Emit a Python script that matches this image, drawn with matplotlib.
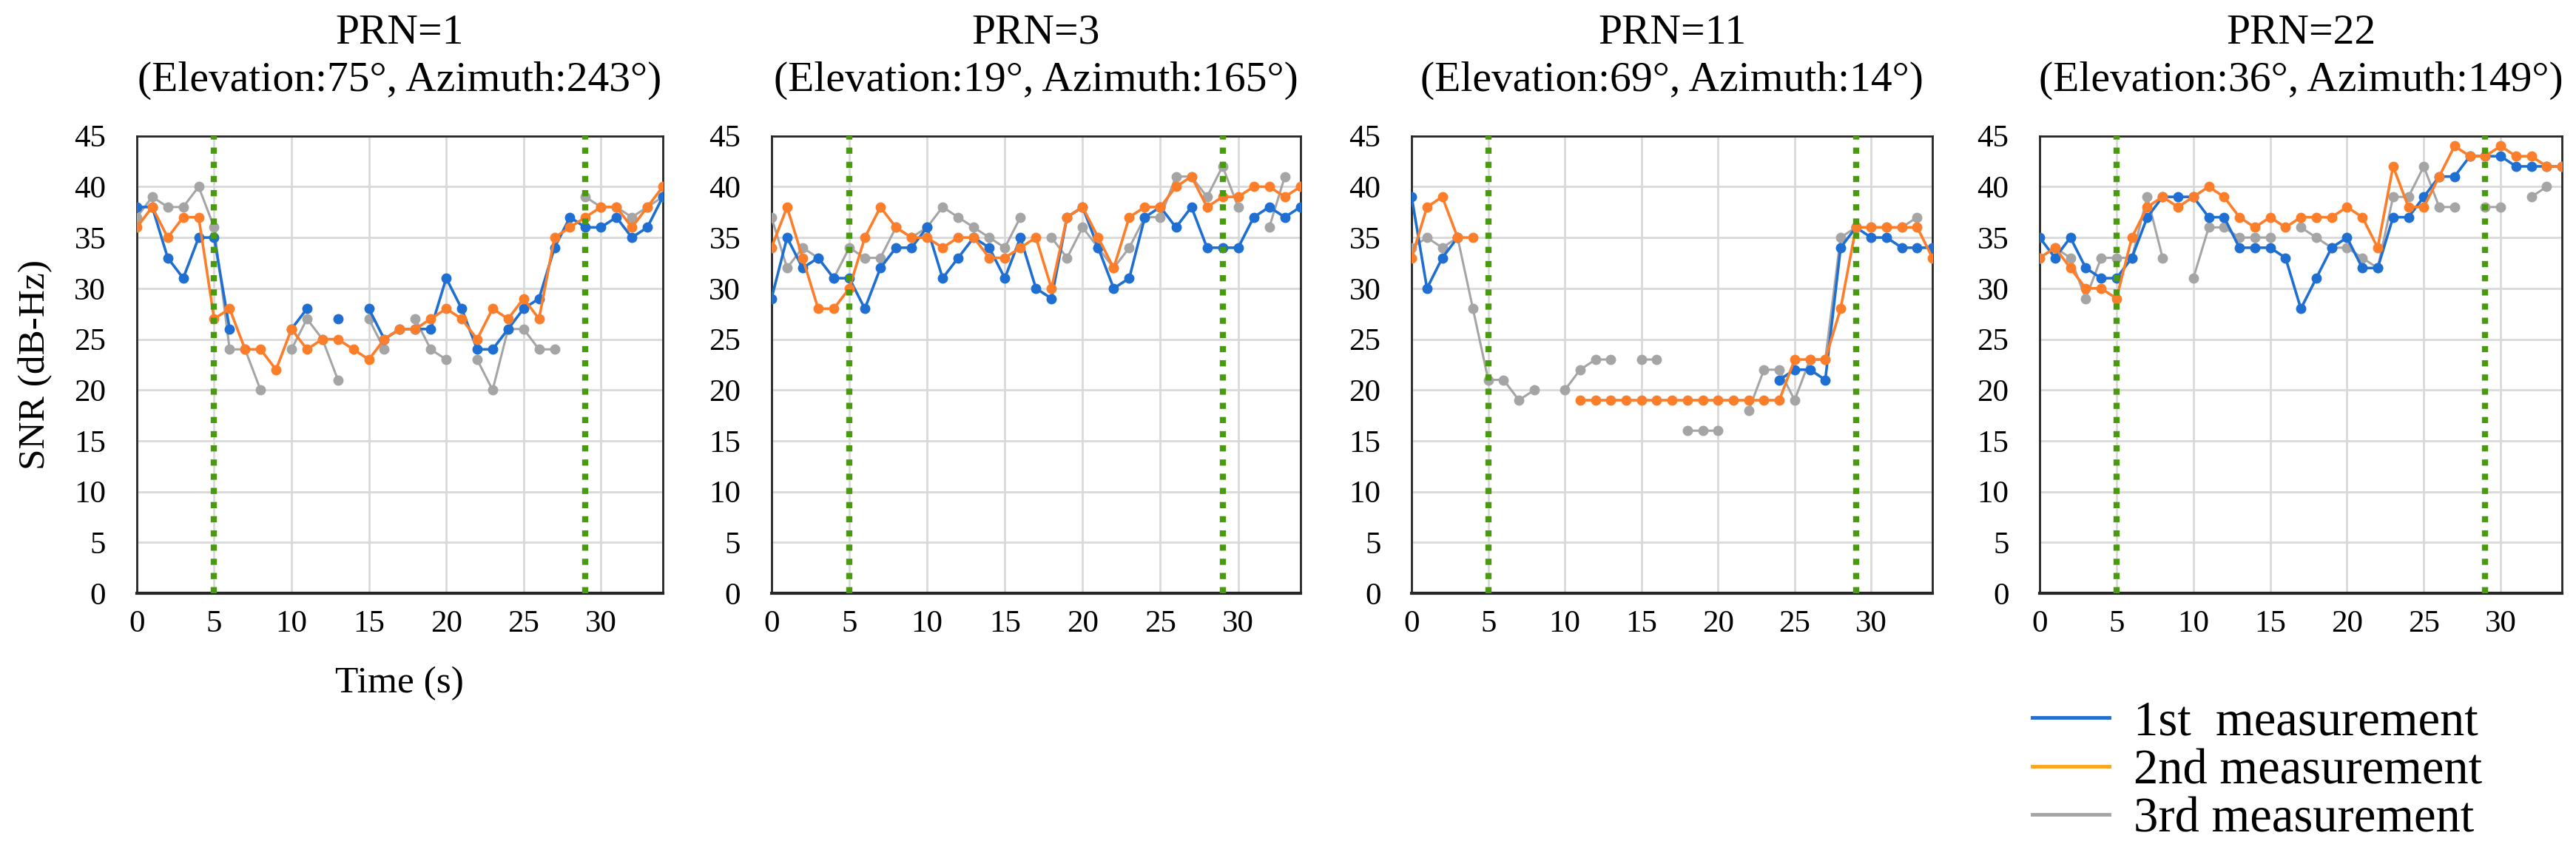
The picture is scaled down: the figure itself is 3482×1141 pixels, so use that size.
import numpy as np
import matplotlib
matplotlib.use("Agg")
import matplotlib.pyplot as plt
from matplotlib.lines import Line2D

nan = np.nan
t = np.arange(35)

# satellite info for the panel titles
prn = [1, 3, 11, 22]
elevation = [75, 19, 69, 36]
azimuth = [243, 165, 14, 149]

# SNR (dB-Hz), one value per second, nan = no record
snr1_m1 = [38, 38, 33, 31, 35, 35, 26, nan, nan, nan, 26, 28, nan, 27, nan, 28, 25, 26, 26, 26,
           31, 28, 24, 24, 26, 28, 29, 34, 37, 36, 36, 37, 35, 36, 39]
snr1_m2 = [36, 38, 35, 37, 37, 27, 28, 24, 24, 22, 26, 24, 25, 25, 24, 23, 25, 26, 26, 27,
           28, 27, 25, 28, 27, 29, 27, 35, 36, 37, 38, 38, 36, 38, 40]
snr1_m3 = [37, 39, 38, 38, 40, 36, 24, 24, 20, nan, 24, 27, 25, 21, nan, 27, 24, nan, 27, 24,
           23, nan, 23, 20, 26, 26, 24, 24, nan, 39, 38, 38, 37, 38, 39]

snr3_m1 = [29, 35, 32, 33, 31, 31, 28, 32, 34, 34, 36, 31, 33, 35, 34, 31, 35, 30, 29, 37,
           38, 34, 30, 31, 37, 38, 36, 38, 34, 34, 34, 37, 38, 37, 38]
snr3_m2 = [34, 38, 33, 28, 28, 30, 35, 38, 36, 35, 35, 34, 35, 35, 33, 33, 34, 35, 30, 37,
           38, 35, 32, 37, 38, 38, 40, 41, 38, 39, 39, 40, 40, 39, 40]
snr3_m3 = [37, 32, 34, 33, 31, 34, 33, 33, 36, 35, 36, 38, 37, 36, 35, 34, 37, nan, 35, 33,
           36, 34, 32, 34, 37, 37, 41, 41, 39, 42, 38, nan, 36, 41, nan]

snr11_m1 = [39, 30, 33, 35, nan, nan, nan, nan, nan, nan, nan, nan, nan, nan, nan, nan, nan, nan, nan, nan,
            nan, nan, nan, nan, 21, 22, 22, 21, 34, 36, 35, 35, 34, 34, 34]
snr11_m2 = [33, 38, 39, 35, 35, nan, nan, nan, nan, nan, nan, 19, 19, 19, 19, 19, 19, 19, 19, 19,
            19, 19, 19, 19, 19, 23, 23, 23, 28, 36, 36, 36, 36, 36, 33]
snr11_m3 = [34, 35, 34, 35, 28, 21, 21, 19, 20, nan, 20, 22, 23, 23, nan, 23, 23, nan, 16, 16,
            16, nan, 18, 22, 22, 19, 23, 23, 35, 36, 36, 36, 36, 37, nan]

snr22_m1 = [35, 33, 35, 32, 31, 31, 33, 37, 39, 39, 39, 37, 37, 34, 34, 34, 33, 28, 31, 34,
            35, 32, 32, 37, 37, 39, 41, 41, 43, 43, 43, 42, 42, 42, 42]
snr22_m2 = [33, 34, 32, 30, 30, 29, 35, 38, 39, 38, 39, 40, 39, 37, 36, 37, 36, 37, 37, 37,
            38, 37, 34, 42, 38, 38, 41, 44, 43, 43, 44, 43, 43, 42, 42]
snr22_m3 = [33, 34, 33, 29, 33, 33, 33, 39, 33, nan, 31, 36, 36, 35, 35, 35, nan, 36, 35, 34,
            34, 33, 32, 39, 39, 42, 38, 38, nan, 38, 38, nan, 39, 40, nan]

panels = [(snr1_m1, snr1_m2, snr1_m3), (snr3_m1, snr3_m2, snr3_m3),
          (snr11_m1, snr11_m2, snr11_m3), (snr22_m1, snr22_m2, snr22_m3)]
marks = [5, 29]  # green dotted lines (s)

labels = ["1st  measurement", "2nd measurement", "3rd measurement"]
colors = ["#1f6fd2", "#fd7e2a", "#a5a5a5"]

serif = ["Liberation Serif", "DejaVu Serif"]
plt.rcParams["font.family"] = serif

fig = plt.figure(figsize=(34.82, 11.41), dpi=100)
lefts = [0.0531, 0.2995, 0.548, 0.7918]
widths = [0.2042, 0.2053, 0.2022, 0.2028]

for i, (m1, m2, m3) in enumerate(panels):
    ax = fig.add_axes([lefts[i], 0.297, widths[i], 0.542])
    ax.plot(t, m3, color=colors[2], lw=2.2, marker="o", ms=9, zorder=3)
    ax.plot(t, m1, color=colors[0], lw=2.6, marker="o", ms=9, zorder=4)
    ax.plot(t, m2, color=colors[1], lw=2.6, marker="o", ms=9, zorder=5)
    for m in marks:
        ax.axvline(m, color="#4a9a10", lw=6, ls=(0, (1, 1.3)),
                   dash_capstyle="butt", zorder=6)

    ax.set_xlim(0, 34)
    ax.set_ylim(0, 45)
    ax.set_xticks(range(0, 31, 5))
    ax.set_yticks(range(0, 46, 5))
    ax.grid(True, color="#d9d9d9", lw=2, zorder=0)
    ax.set_axisbelow(True)
    ax.tick_params(axis="both", length=0, labelsize=31)
    ax.tick_params(axis="y", pad=30)
    ax.tick_params(axis="x", pad=16)
    for s in ax.spines.values():
        s.set_color("#262626")
        s.set_linewidth(2)
    ax.spines["bottom"].set_linewidth(3)

    ax.set_title("PRN=%d\n(Elevation:%d°, Azimuth:%d°)" % (prn[i], elevation[i], azimuth[i]),
                 fontsize=41.5, pad=44, linespacing=1.3)

    if i == 0:
        ax.set_ylabel("SNR (dB-Hz)", fontsize=37)
        ax.yaxis.set_label_coords(-0.16, 0.5)
        ax.set_xlabel("Time (s)", fontsize=37)
        ax.xaxis.set_label_coords(0.5, -0.16)

handles = [Line2D([], [], color=c, lw=3.5) for c in ["#1f6fd2", "#ffa31f", "#a5a5a5"]]
fig.legend(handles, labels, loc="lower left", bbox_to_anchor=(0.789, 0.002),
           frameon=False, fontsize=48, handlelength=1.55, handletextpad=0.5,
           labelspacing=0.07, borderpad=0, borderaxespad=0)

fig.savefig("out.png", dpi=100)
